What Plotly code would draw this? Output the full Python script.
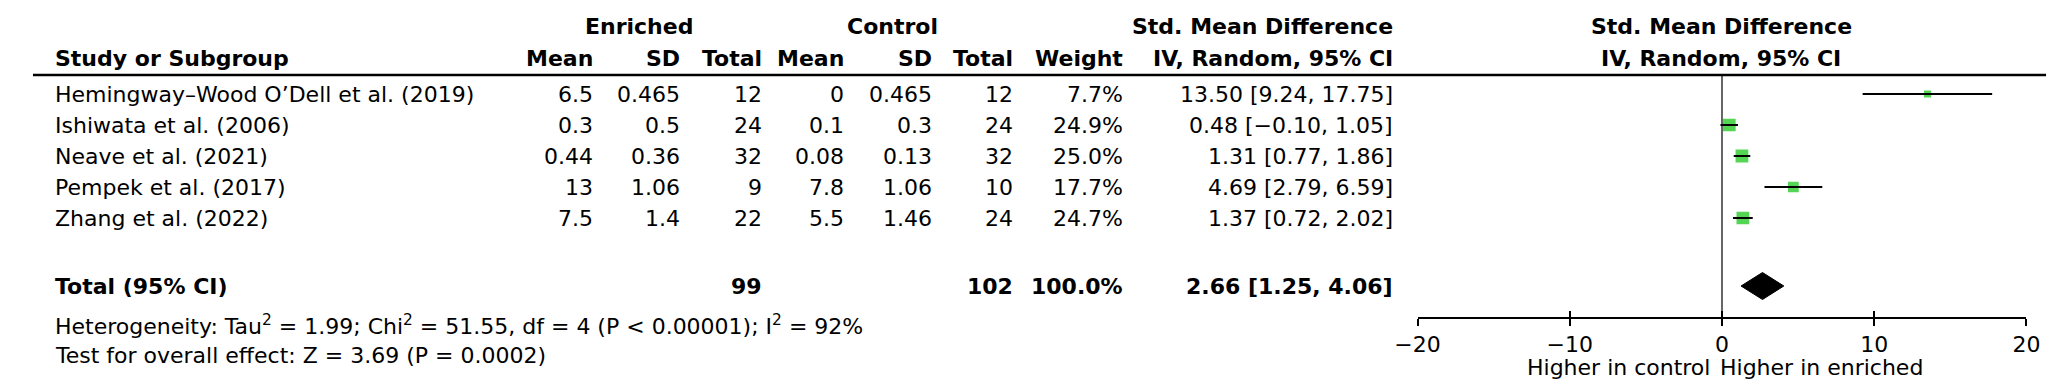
import plotly.graph_objects as go

# ---------------- data ----------------
studies = ["Hemingway–Wood O’Dell et al. (2019)", "Ishiwata et al. (2006)",
           "Neave et al. (2021)", "Pempek et al. (2017)", "Zhang et al. (2022)"]
e_mean = [6.5, 0.3, 0.44, 13, 7.5]
e_sd = [0.465, 0.5, 0.36, 1.06, 1.4]
e_n = [12, 24, 32, 9, 22]
c_mean = [0, 0.1, 0.08, 7.8, 5.5]
c_sd = [0.465, 0.3, 0.13, 1.06, 1.46]
c_n = [12, 24, 32, 10, 24]
weight = [7.7, 24.9, 25.0, 17.7, 24.7]
smd = [13.50, 0.48, 1.31, 4.69, 1.37]
ci_lo = [9.24, -0.10, 0.77, 2.79, 0.72]
ci_hi = [17.75, 1.05, 1.86, 6.59, 2.02]
total_e = 99
total_c = 102
total_w = 100.0
pooled = [2.66, 1.25, 4.06]
heterogeneity = "Heterogeneity: Tau<sup>2</sup> = 1.99; Chi<sup>2</sup> = 51.55, df = 4 (P < 0.00001); I<sup>2</sup> = 92%"
overall = "Test for overall effect: Z = 3.69 (P = 0.0002)"
tick_vals = [-20, -10, 0, 10, 20]
label_left = "Higher in control"
label_right = "Higher in enriched"

# ---------------- layout helpers ----------------
W, H = 2055, 380
FONT = "DejaVu Sans"
FS = 22
ROW0, STEP = 86.0, 31.0          # pixel centre of first study row, row pitch


def ry(px):
    return (px - ROW0) / STEP


def fx(px):
    return px / W


def fmt(v):
    return f"{v:g}".replace("-", "−")


def fci(v):
    return f"{v:.2f}".replace("-", "−")


total_row = ry(278)
study_rows = list(range(len(studies)))

fig = go.Figure()

# CI whiskers (on overlay axis matching x)
wx, wy = [], []
for r, lo, hi in zip(study_rows, ci_lo, ci_hi):
    wx += [lo, hi, None]
    wy += [r, r, None]
fig.add_trace(go.Scatter(x=wx, y=wy, mode="lines", xaxis="x2", yaxis="y",
                         line=dict(color="black", width=2.2), hoverinfo="skip",
                         showlegend=False))

# weight squares
sizes = [2.55 * (w ** 0.5) for w in weight]
fig.add_trace(go.Scatter(x=smd, y=study_rows, mode="markers", xaxis="x", yaxis="y",
                         marker=dict(symbol="square", size=sizes, color="#0cc40c",
                                     line=dict(width=0)),
                         hoverinfo="skip", showlegend=False))

# pooled diamond
est, lo, hi = pooled
dh = 13.5 / STEP
fig.add_trace(go.Scatter(x=[lo, est, hi, est, lo],
                         y=[total_row, total_row - dh, total_row, total_row + dh, total_row],
                         mode="lines", fill="toself", fillcolor="black",
                         line=dict(color="black", width=1), xaxis="x", yaxis="y",
                         hoverinfo="skip", showlegend=False))

ann = []


def T(px, row, text, anchor="left", bold=False):
    if bold:
        text = f"<b>{text}</b>"
    ann.append(dict(x=fx(px), xref="paper", y=row, yref="y", text=text,
                    xanchor=anchor, yanchor="middle", showarrow=False,
                    font=dict(family=FONT, size=FS, color="black")))


h1, h2 = ry(18), ry(50)
# header
T(619, h1, "Enriched", "center", True)
T(877, h1, "Control", "center", True)
T(1254, h1, "Std. Mean Difference", "center", True)
T(1721, h1, "Std. Mean Difference", "center", True)
T(22, h2, "Study or Subgroup", "left", True)
col_r = [574, 663, 746, 830, 920, 1002, 1114, 1389]
for px, t in zip(col_r, ["Mean", "SD", "Total", "Mean", "SD", "Total", "Weight",
                         "IV, Random, 95% CI"]):
    T(px, h2, t, "right", True)
T(1721, h2, "IV, Random, 95% CI", "center", True)

# study rows
for i, r in enumerate(study_rows):
    T(22, r, studies[i])
    vals = [fmt(e_mean[i]), fmt(e_sd[i]), str(e_n[i]), fmt(c_mean[i]), fmt(c_sd[i]),
            str(c_n[i]), f"{weight[i]:.1f}%",
            f"{fci(smd[i])} [{fci(ci_lo[i])}, {fci(ci_hi[i])}]"]
    for px, t in zip(col_r, vals):
        T(px, r, t, "right")

# total
T(22, total_row, "Total (95% CI)", "left", True)
T(col_r[2], total_row, str(total_e), "right", True)
T(col_r[5], total_row, str(total_c), "right", True)
T(col_r[6], total_row, f"{total_w:.1f}%", "right", True)
T(col_r[7], total_row, f"{fci(est)} [{fci(lo)}, {fci(hi)}]", "right", True)

T(22, ry(317), heterogeneity)
T(22, ry(347), overall)

T(1712, ry(359), label_left, "right")
T(1718, ry(359), label_right, "left")

axis_px = 310
line_row = ry(67)
shapes = [
    dict(type="line", xref="paper", yref="y", x0=fx(2), x1=fx(2052), y0=line_row,
         y1=line_row, line=dict(color="black", width=2.5)),
    dict(type="line", xref="x", yref="y", x0=0, x1=0, y0=line_row, y1=ry(axis_px),
         line=dict(color="black", width=1.2)),
]

xdom = [fx(1412), fx(2032)]
pos = (H - axis_px) / H
fig.update_layout(
    width=W, height=H, margin=dict(l=0, r=0, t=0, b=0),
    paper_bgcolor="white", plot_bgcolor="white",
    font=dict(family=FONT, size=FS, color="black"),
    xaxis=dict(domain=xdom, range=[-20, 20], anchor="free", position=pos,
               showline=True, linecolor="black", linewidth=2,
               ticks="outside", ticklen=7, tickwidth=2, tickcolor="black",
               tickvals=tick_vals, showgrid=False, zeroline=False,
               tickfont=dict(family=FONT, size=FS, color="black")),
    xaxis2=dict(domain=xdom, matches="x", overlaying="x", anchor="free", position=pos,
                showline=False, ticks="inside", ticklen=7, tickwidth=2,
                tickcolor="black", tickvals=tick_vals, showticklabels=False,
                showgrid=False, zeroline=False),
    yaxis=dict(domain=[0, 1], range=[ry(H), ry(0)], visible=False),
    annotations=ann, shapes=shapes,
)

fig.write_html("out.html")
